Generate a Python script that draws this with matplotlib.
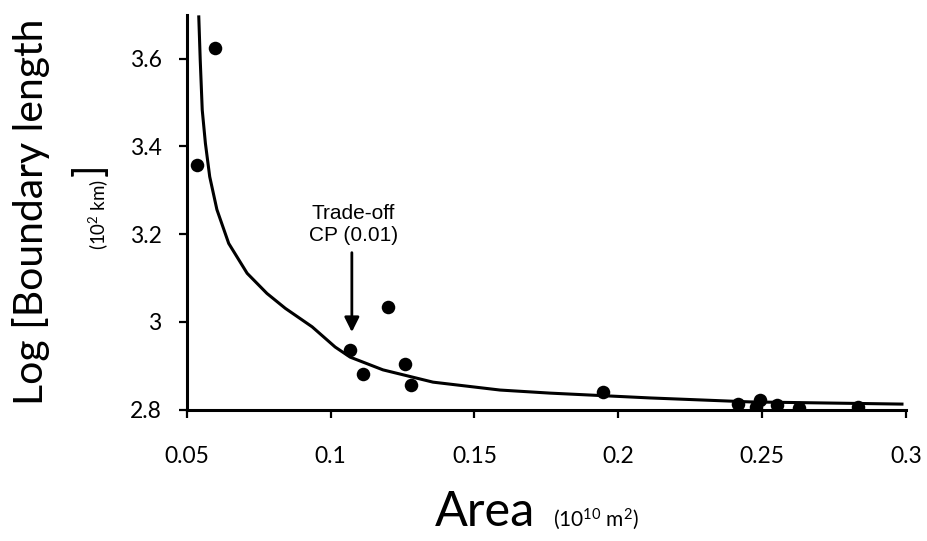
import matplotlib.pyplot as plt
from matplotlib.ticker import FuncFormatter

plt.rcParams['font.family'] = ['Lato', 'DejaVu Sans']
plt.rcParams['mathtext.fontset'] = 'custom'
plt.rcParams['mathtext.rm'] = 'Lato'
plt.rcParams['mathtext.it'] = 'Lato:italic'

# observed points (area 10^10 m2, log boundary length)
area = [0.0535, 0.0600, 0.1067, 0.1112, 0.1199, 0.1259, 0.1280, 0.1946,
        0.2416, 0.2478, 0.2492, 0.2551, 0.2627, 0.2833]
log_len = [3.357, 3.625, 2.936, 2.882, 3.034, 2.905, 2.857, 2.841,
           2.814, 2.807, 2.823, 2.810, 2.805, 2.807]

# fitted curve
fit_x = [0.0542, 0.0547, 0.0554, 0.0565, 0.0580, 0.0605, 0.0646, 0.0710,
         0.0779, 0.0843, 0.0936, 0.1016, 0.1068, 0.1182, 0.1356, 0.1589,
         0.1763, 0.2111, 0.2458, 0.2986]
fit_y = [3.695, 3.597, 3.483, 3.407, 3.331, 3.256, 3.179, 3.111,
         3.065, 3.031, 2.989, 2.943, 2.920, 2.891, 2.863, 2.845,
         2.838, 2.827, 2.818, 2.813]

xticks = [0.05, 0.1, 0.15, 0.2, 0.25, 0.3]
yticks = [2.8, 3.0, 3.2, 3.4, 3.6]

W, H = 927, 541
fig = plt.figure(figsize=(W / 100, H / 100), dpi=100)
ax = fig.add_axes([186.7 / W, 1 - 409.8 / H, (906 - 186.7) / W, (409.8 - 14.7) / H])

ax.plot(fit_x, fit_y, color='black', lw=2.2, zorder=2, solid_joinstyle='round')
ax.scatter(area, log_len, s=95, color='black', zorder=3, linewidths=0)

ax.set_xlim(0.05, 0.3)
ax.set_ylim(2.8, 3.7)
ax.set_xticks(xticks)
ax.set_yticks(yticks)
fmt = FuncFormatter(lambda v, p: '%g' % round(v, 3))
ax.xaxis.set_major_formatter(fmt)
ax.yaxis.set_major_formatter(fmt)
ax.tick_params(direction='out', length=6, width=1.6, labelsize=16.5)
ax.tick_params(axis='x', pad=20)
ax.tick_params(axis='y', pad=12)
for s in ['top', 'right']:
    ax.spines[s].set_visible(False)
for s in ['left', 'bottom']:
    ax.spines[s].set_linewidth(2.2)

# trade-off annotation
ax.annotate('', xy=(0.1074, 2.977), xytext=(0.1074, 3.158),
            arrowprops=dict(arrowstyle='-|>', lw=2, color='black', mutation_scale=22,
                            shrinkA=0, shrinkB=0))
ax.text(0.1079, 3.176, 'Trade-off\nCP (0.01)', ha='center', va='bottom',
        fontsize=15, family='Liberation Sans', linespacing=1.15)

# axis labels
fig.text(435 / W, 1 - 526 / H, 'Area', fontsize=35, ha='left', va='baseline')
fig.text(553 / W, 1 - 526 / H, '(10$^{10}$ m$^{2}$)', fontsize=15, ha='left', va='baseline')

fig.text(43 / W, 1 - 212 / H, 'Log [Boundary length', fontsize=29.5, rotation=90,
         rotation_mode='anchor', ha='center', va='baseline')
fig.text(105 / W, 1 - 250 / H, '(10$^{2}$ km)', fontsize=13.5, rotation=90,
         rotation_mode='anchor', ha='left', va='baseline')
fig.text(102 / W, 1 - 176 / H, ']', fontsize=29.5, rotation=90,
         rotation_mode='anchor', ha='left', va='baseline')

fig.savefig('out.png', dpi=100)
